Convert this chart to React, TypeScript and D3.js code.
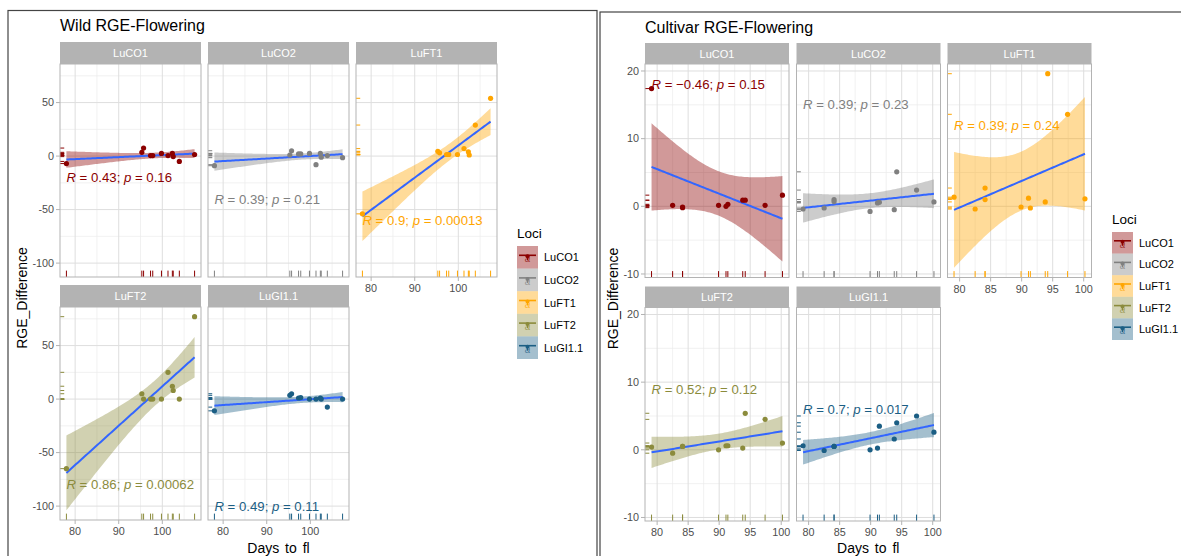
import React from "react";
import * as d3 from "d3";

// ---- data ----
const loci = ["LuCO1", "LuCO2", "LuFT1", "LuFT2", "LuGI1.1"];
const lociColors = ["#8B0000", "#808080", "#FFA500", "#8B8B3C", "#1B5E84"];

// Wild accessions: days to flowering and RGE difference per locus
const wildDays = [78, 95.3, 95.7, 97.3, 97.8, 99.8, 101.3, 102.3, 102.5, 103.9, 107.4];
const wildCO1 = [-7, 3.5, 7.5, 0.5, 0.5, 2.5, 0.5, 2.5, -0.5, -5, 1.5];
const wildCO2 = [-9, 1, 5, 2, 2, 2.5, -8, 2.5, -1, 0.5, -1.5];
const wildFT1 = [-54, 4.5, 3, 1.5, 1.5, 1.5, 7, 4, 1, 29, 54];
const wildFT2 = [-65, 5, 0, 0, 0, 0, 25, 12, 8, 0, 77];
const wildGI = [-11, 3.5, 5, 1, 1.5, 0, 0, 1, 0, -7.5, 0];
const wildR = ["0.43", "0.39", "0.9", "0.86", "0.49"];
const wildP = ["0.16", "0.21", "0.00013", "0.00062", "0.11"];
const wildLabelY = [-20, -40, -60, -80, -100];
const wildYTicks = [-100, -50, 0, 50];
const wildYMinor = [-75, -25, 25, 75];
const wildXTicks = [80, 90, 100];
const wildXMinor = [85, 95, 105];

// Cultivars
const cultDays = [79.1, 82.5, 84.1, 84.1, 89.9, 91.1, 91.4, 93.8, 94.2, 97.4, 100.2];
const cultCO1 = [17.4, 0.15, -0.1, -0.2, 0.15, 0, 0.3, 0.9, 0.9, 0.15, 1.65];
const cultCO2 = [-0.4, -0.25, 1.0, 0.7, -0.75, 0.5, 0.6, -0.5, 5.1, 2.4, 0.65];
const cultFT1 = [1.35, -0.4, 2.7, 1.0, -0.1, 1.2, -0.25, 0.65, 19.6, 13.6, 1.1];
const cultFT2 = [0.4, -0.5, 0.5, 0.5, 0, 0.6, 0.6, 0.25, 5.4, 4.5, 1.0];
const cultGI = [0.6, -0.1, 0.5, 0.5, 0, 0.25, 3.5, 1.6, 4, 5, 2.6];
const cultR = ["\u22120.46", "0.39", "0.39", "0.52", "0.7"];
const cultP = ["0.15", "0.23", "0.24", "0.12", "0.017"];
const cultLabelY = [18, 15, 12, 9, 6];
const cultYTicks = [-10, 0, 10, 20];
const cultYMinor = [-5, 5, 15];
const cultXTicks = [80, 85, 90, 95, 100];
const cultXMinor = [77.5, 82.5, 87.5, 92.5, 97.5];

const FONT = "'Liberation Sans', Arial, sans-serif";
const tTable = { 8: 2.306, 9: 2.262, 10: 2.228 };

// linear fit with 95% confidence band (like geom_smooth(method = "lm"))
function fitLine(xs, ys) {
  const n = xs.length;
  const xm = d3.mean(xs), ym = d3.mean(ys);
  let sxx = 0, sxy = 0;
  xs.forEach((x, i) => { sxx += (x - xm) ** 2; sxy += (x - xm) * (ys[i] - ym); });
  const b = sxy / sxx, a = ym - b * xm;
  const sse = d3.sum(xs, (x, i) => (ys[i] - a - b * x) ** 2);
  const s = Math.sqrt(sse / (n - 2));
  const t = tTable[n - 2] || 2.262;
  const [x0, x1] = d3.extent(xs);
  return d3.range(80).map(i => {
    const x = x0 + ((x1 - x0) * i) / 79;
    const y = a + b * x;
    const se = s * Math.sqrt(1 / n + (x - xm) ** 2 / sxx);
    return { x, y, lo: y - t * se, hi: y + t * se };
  });
}

function expand([lo, hi]) {
  const d = (hi - lo) * 0.05;
  return [lo - d, hi + d];
}

function Facet({ i, L, x, y, days, ys, fit, rVal, pVal, labelY, showX, showY, xTicks, xMinor, yTicks, yMinor }) {
  const col = i % 3, row = Math.floor(i / 3);
  const left = L.cols[col], w = L.panelW;
  const top = L.rows[row] + L.stripH, h = L.panelH;
  const color = lociColors[i];
  const xs = d3.scaleLinear().domain(x.domain()).range([left, left + w]);
  const yy = d3.scaleLinear().domain(y.domain()).range([top + h, top]);
  const area = d3.area().x(d => xs(d.x)).y0(d => yy(d.lo)).y1(d => yy(d.hi));
  const line = d3.line().x(d => xs(d.x)).y(d => yy(d.y));
  const rugY = h * 0.03, rugX = w * 0.03;
  return (
    <g>
      <rect x={left} y={L.rows[row]} width={w} height={L.stripH} fill="#B3B3B3" />
      <text x={left + w / 2} y={L.rows[row] + L.stripH / 2 + 4} textAnchor="middle" fill="#fff" fontSize={11} fontFamily={FONT}>{loci[i]}</text>
      <rect x={left} y={top} width={w} height={h} fill="#fff" />
      <g clipPath={`url(#clip-${L.id}-${i})`}>
        {xMinor.map(v => <line key={"xm" + v} x1={xs(v)} x2={xs(v)} y1={top} y2={top + h} stroke="#EBEBEB" strokeWidth={0.7} />)}
        {yMinor.map(v => <line key={"ym" + v} x1={left} x2={left + w} y1={yy(v)} y2={yy(v)} stroke="#EBEBEB" strokeWidth={0.7} />)}
        {xTicks.map(v => <line key={"xt" + v} x1={xs(v)} x2={xs(v)} y1={top} y2={top + h} stroke="#DEDEDE" strokeWidth={1} />)}
        {yTicks.map(v => <line key={"yt" + v} x1={left} x2={left + w} y1={yy(v)} y2={yy(v)} stroke="#DEDEDE" strokeWidth={1} />)}
        <path d={area(fit)} fill={color} fillOpacity={0.4} />
        <path d={line(fit)} fill="none" stroke="#3366FF" strokeWidth={2} />
        {days.map((d, k) => <circle key={"p" + k} cx={xs(d)} cy={yy(ys[k])} r={2.6} fill={color} />)}
        {days.map((d, k) => <line key={"rb" + k} x1={xs(d)} x2={xs(d)} y1={top + h} y2={top + h - rugY} stroke={color} strokeWidth={1} />)}
        {ys.map((v, k) => <line key={"rl" + k} x1={left} x2={left + rugX} y1={yy(v)} y2={yy(v)} stroke={color} strokeWidth={1} />)}
      </g>
      <text x={xs(d3.min(days))} y={yy(labelY)} dy="0.35em" fill={color} fontSize={13.2} fontFamily={FONT}>
        <tspan fontStyle="italic">R</tspan>{` = ${rVal}; `}<tspan fontStyle="italic">p</tspan>{` = ${pVal}`}
      </text>
      <rect x={left} y={top} width={w} height={h} fill="none" stroke="#B3B3B3" strokeWidth={1} />
      {showY && yTicks.map(v => (
        <g key={"ya" + v}>
          <line x1={left - 4} x2={left} y1={yy(v)} y2={yy(v)} stroke="#B3B3B3" />
          <text x={left - 6} y={yy(v) + 3.8} textAnchor="end" fill="#4D4D4D" fontSize={10.8} fontFamily={FONT}>{v}</text>
        </g>
      ))}
      {showX && xTicks.map(v => (
        <g key={"xa" + v}>
          <line x1={xs(v)} x2={xs(v)} y1={top + h} y2={top + h + 4} stroke="#B3B3B3" />
          <text x={xs(v)} y={top + h + 15} textAnchor="middle" fill="#4D4D4D" fontSize={10.8} fontFamily={FONT}>{v}</text>
        </g>
      ))}
    </g>
  );
}

function Legend({ x0, y0, keyW, keyH }) {
  return (
    <g fontFamily={FONT}>
      <text x={x0} y={y0 - 8} fontSize={13.5} fill="#000">Loci</text>
      {loci.map((name, i) => {
        const y = y0 + i * keyH;
        const c = lociColors[i];
        const cx = x0 + keyW / 2, cy = y + keyH / 2;
        return (
          <g key={name}>
            <rect x={x0} y={y} width={keyW} height={keyH} fill={c} fillOpacity={0.4} />
            <line x1={x0 + 2} x2={x0 + keyW - 2} y1={cy - 2} y2={cy - 2} stroke={c} strokeWidth={1.6} />
            <line x1={cx} x2={cx} y1={cy - 2} y2={cy + 3} stroke={c} strokeWidth={1.2} />
            <circle cx={cx} cy={cy - 1} r={2} fill={c} />
            <text x={cx} y={cy + 5} textAnchor="middle" fontSize={10} fontStyle="italic" fill={c} fillOpacity={0.7}>a</text>
            <text x={x0 + keyW + 6} y={cy + 4} fontSize={11} fill="#000">{name}</text>
          </g>
        );
      })}
    </g>
  );
}

function Chart({ L, title, days, series, rVals, pVals, labelYs, xTicks, xMinor, yTicks, yMinor }) {
  const fits = series.map(ys => fitLine(days, ys));
  const allY = [
    ...series.flat(),
    ...fits.flatMap(f => f.flatMap(d => [d.lo, d.hi])),
    ...labelYs,
  ];
  const x = d3.scaleLinear().domain(expand(d3.extent(days)));
  const y = d3.scaleLinear().domain(expand(d3.extent(allY)));
  const panelsTop = L.rows[0] + L.stripH;
  const panelsBottom = L.rows[1] + L.stripH + L.panelH;
  const plotLeft = L.cols[0], plotRight = L.cols[2] + L.panelW;
  return (
    <g>
      <defs>
        {series.map((_, i) => (
          <clipPath key={i} id={`clip-${L.id}-${i}`}>
            <rect x={L.cols[i % 3]} y={L.rows[Math.floor(i / 3)] + L.stripH} width={L.panelW} height={L.panelH} />
          </clipPath>
        ))}
      </defs>
      <rect x={L.frame[0]} y={L.frame[1]} width={L.frame[2]} height={L.frame[3]} fill="none" stroke="#444" strokeWidth={1.2} />
      <text x={L.cols[0]} y={L.titleY} fontSize={16} fontFamily={FONT} fill="#000">{title}</text>
      {series.map((ys, i) => (
        <Facet key={i} i={i} L={L} x={x} y={y} days={days} ys={ys} fit={fits[i]}
          rVal={rVals[i]} pVal={pVals[i]} labelY={labelYs[i]}
          showX={i >= 2} showY={i % 3 === 0}
          xTicks={xTicks} xMinor={xMinor} yTicks={yTicks} yMinor={yMinor} />
      ))}
      <text transform={`translate(${L.yTitleX},${(panelsTop + panelsBottom) / 2 + 6}) rotate(-90)`} textAnchor="middle" fontSize={14} fontFamily={FONT} fill="#000">RGE_Difference</text>
      <text x={(plotLeft + plotRight) / 2} y={L.xTitleY} textAnchor="middle" fontSize={14} fontFamily={FONT} wordSpacing={2} fill="#000">Days to fl</text>
      <Legend x0={L.legendX} y0={L.legendY} keyW={21} keyH={L.keyH} />
    </g>
  );
}

const wildLayout = {
  id: "wild", cols: [60, 208, 356], panelW: 141, rows: [42, 285], stripH: 22, panelH: 213,
  titleY: 31, yTitleX: 27, xTitleY: 553, legendX: 517, legendY: 246, keyH: 22.6,
  frame: [8, 10.5, 589, 560],
};
const cultLayout = {
  id: "cult", cols: [645, 796.5, 947.5], panelW: 144, rows: [43, 286.5], stripH: 21, panelH: 213.5,
  titleY: 33, yTitleX: 618, xTitleY: 553, legendX: 1112, legendY: 232, keyH: 21.6,
  frame: [600, 12, 600, 560],
};

export default function App() {
  return (
    <svg width={1181} height={556} style={{ position: "absolute", left: 0, top: 0, background: "#fff" }}>
      <rect width={1181} height={556} fill="#fff" />
      <Chart L={wildLayout} title="Wild RGE-Flowering" days={wildDays}
        series={[wildCO1, wildCO2, wildFT1, wildFT2, wildGI]}
        rVals={wildR} pVals={wildP} labelYs={wildLabelY}
        xTicks={wildXTicks} xMinor={wildXMinor} yTicks={wildYTicks} yMinor={wildYMinor} />
      <Chart L={cultLayout} title="Cultivar RGE-Flowering" days={cultDays}
        series={[cultCO1, cultCO2, cultFT1, cultFT2, cultGI]}
        rVals={cultR} pVals={cultP} labelYs={cultLabelY}
        xTicks={cultXTicks} xMinor={cultXMinor} yTicks={cultYTicks} yMinor={cultYMinor} />
    </svg>
  );
}
